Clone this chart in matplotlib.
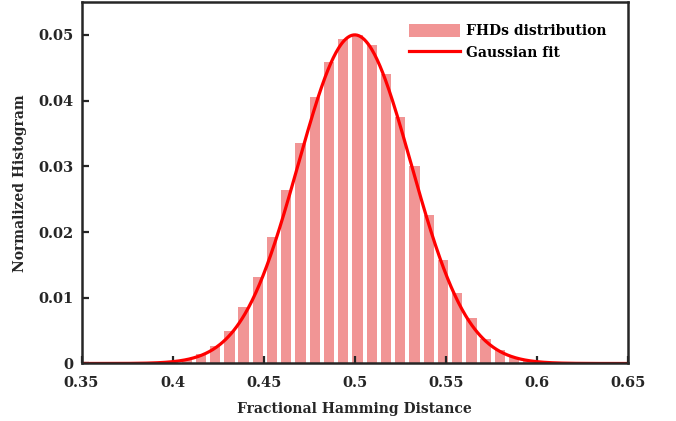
import matplotlib.pyplot as plt
import numpy as np

# FHD histogram (bin centres and normalized counts)
bin_centers = [0.3921, 0.3999, 0.4078, 0.4156, 0.4234, 0.4312, 0.4390, 0.4468,
               0.4546, 0.4624, 0.4703, 0.4781, 0.4859, 0.4937, 0.5015, 0.5093,
               0.5171, 0.5249, 0.5328, 0.5406, 0.5484, 0.5562, 0.5640, 0.5718,
               0.5796, 0.5874, 0.5953, 0.6031, 0.6109]
hist_vals = [0.00015, 0.00035, 0.00075, 0.0015, 0.0026, 0.0050, 0.0086, 0.0132,
             0.0193, 0.0264, 0.0335, 0.0405, 0.0458, 0.0493, 0.0500, 0.0484,
             0.0440, 0.0375, 0.0300, 0.0226, 0.0158, 0.0108, 0.0069, 0.0038,
             0.0021, 0.0010, 0.0005, 0.00025, 0.0001]
bar_width = 0.0057

# Gaussian fit parameters
fit_mu = 0.5
fit_sigma = 0.031
fit_peak = 0.05

xticks = [0.35, 0.4, 0.45, 0.5, 0.55, 0.6, 0.65]
yticks = [0, 0.01, 0.02, 0.03, 0.04, 0.05]

plt.rcParams['font.family'] = 'DejaVu Serif'
plt.rcParams['font.weight'] = 'bold'

fig = plt.figure(figsize=(6.76, 4.21), dpi=100)
ax = fig.add_axes([0.1206, 0.1366, 0.8084, 0.8586])

bars = ax.bar(bin_centers, hist_vals, width=bar_width, color='#f19595', label='FHDs distribution')
xfit = np.linspace(0.35, 0.65, 600)
yfit = fit_peak * np.exp(-(xfit - fit_mu) ** 2 / (2 * fit_sigma ** 2))
line, = ax.plot(xfit, yfit, color='red', lw=2.3, label='Gaussian fit')

ax.set_xlim(0.35, 0.65)
ax.set_ylim(0, 0.055)
ax.set_xticks(xticks)
ax.set_xticklabels([f'{t:g}' for t in xticks])
ax.set_yticks(yticks)
ax.set_yticklabels([f'{t:g}' for t in yticks])
ax.tick_params(direction='in', length=5, width=1.6, labelsize=10.5, colors='#262626')
ax.tick_params(axis='x', pad=9)
ax.tick_params(axis='y', pad=6)
for s in ax.spines.values():
    s.set_linewidth(1.8)
    s.set_color('#262626')

ax.set_xlabel('Fractional Hamming Distance', fontsize=10, fontweight='bold',
              color='#262626', labelpad=9)
ax.set_ylabel('Normalized Histogram', fontsize=10, fontweight='bold',
              color='#262626', labelpad=8)

ax.legend([bars, line], ['FHDs distribution', 'Gaussian fit'], loc='upper right',
          bbox_to_anchor=(0.97, 0.955), frameon=False, fontsize=10, handlelength=3.7,
          handleheight=1.1, borderaxespad=0.0, labelspacing=0.5, handletextpad=0.4)

fig.savefig('out.png', dpi=100)
